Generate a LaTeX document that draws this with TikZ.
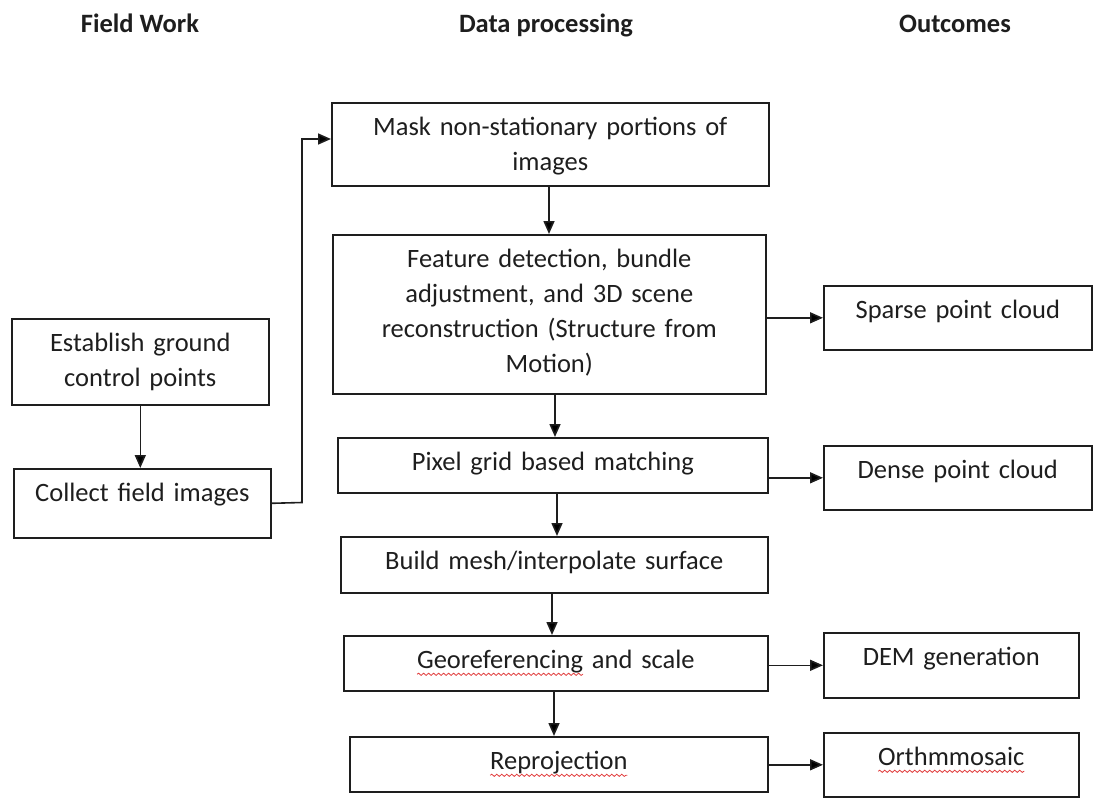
\documentclass[tikz,border=0pt]{standalone}
\usepackage{fontspec}
\setmainfont{Carlito}
\usetikzlibrary{arrows.meta,decorations.pathmorphing}
\definecolor{ink}{RGB}{30,30,30}
\definecolor{spell}{RGB}{225,60,60}
\newlength\wavelen
\newcommand{\redwave}[1]{\settowidth{\wavelen}{#1}\rlap{\tikz[overlay,x=1bp,y=1bp]\draw[spell, line width=0.8bp, decorate, decoration={snake, amplitude=1.1bp, segment length=5bp}] (0,-5.5) -- (\wavelen,-5.5);}#1}
\tikzset{
  box/.style={draw=ink, line width=1.6bp, inner sep=0pt, align=center, text=ink,
    font=\fontsize{26.5bp}{35bp}\selectfont, text height=33bp, anchor=north west},
  hdr/.style={font=\fontsize{26.5bp}{32bp}\selectfont\bfseries, text=ink, anchor=base, inner sep=0pt},
  arr/.style={draw=ink, line width=1.6bp, -{Triangle[length=13bp,width=11bp]}}
}
\begin{document}
\begin{tikzpicture}[x=1bp, y=-1bp]
\useasboundingbox (0,0) rectangle (1096,798);

% headers
\node[hdr] (h1) at (140,33) {Field Work};
\node[hdr] (h2) at (546,33) {Data processing};
\node[hdr] (h3) at (955,33) {Outcomes};

% field work
\node[box, text width=257bp, text depth=53bp] (est) at (11,318) {Establish ground\\control points};
\node[box, text width=257bp, text depth=36bp] (col) at (13,468) {Collect field images};

% data processing
\node[box, text width=437bp, text depth=50bp] (mask) at (331,102) {Mask non-stationary portions of\\images};
\node[box, text width=433bp, text depth=126bp] (feat) at (332,234) {Feature detection, bundle\\adjustment, and 3D scene\\reconstruction (Structure from\\Motion)};
\node[box, text width=430bp, text depth=22bp] (pix) at (337,437) {Pixel grid based matching};
\node[box, text width=427bp, text depth=23bp] (build) at (340,536) {Build mesh/interpolate surface};
\node[box, text width=424bp, text depth=22bp] (geo) at (343,635) {\redwave{Georeferencing} and scale};
\node[box, text width=418bp, text depth=22bp] (rep) at (349,736) {\redwave{Reprojection}};

% outcomes
\node[box, text width=268bp, text depth=31bp] (sparse) at (823,285) {Sparse point cloud};
\node[box, text width=268bp, text depth=31bp] (dense) at (823,445) {Dense point cloud};
\node[box, text width=255bp, text depth=32bp] (dem) at (823,632) {DEM generation};
\node[box, text width=255bp, text depth=31bp] (ort) at (823,732) {\redwave{Orthmmosaic}};

% connectors
\draw[arr] (est.south) -- (est.south |- col.north);
\coordinate (jog) at (302,502.5);
\coordinate (mtarget) at (331,139);
\draw[arr] (col.east) -- (jog) |- (mtarget);

\coordinate (xa) at (549,0);
\coordinate (xb) at (555,0);
\coordinate (xc) at (557,0);
\coordinate (xd) at (552,0);
\coordinate (xe) at (554,0);
\draw[arr] (mask.south -| xa) -- (feat.north -| xa);
\draw[arr] (feat.south -| xb) -- (pix.north -| xb);
\draw[arr] (pix.south -| xc) -- (build.north -| xc);
\draw[arr] (build.south -| xd) -- (geo.north -| xd);
\draw[arr] (geo.south -| xe) -- (rep.north -| xe);

\draw[arr] (feat.east |- sparse.west) -- (sparse.west);
\draw[arr] (pix.east |- dense.west) -- (dense.west);
\draw[arr] (geo.east |- dem.west) -- (dem.west);
\draw[arr] (rep.east |- ort.west) -- (ort.west);
\end{tikzpicture}
\end{document}
